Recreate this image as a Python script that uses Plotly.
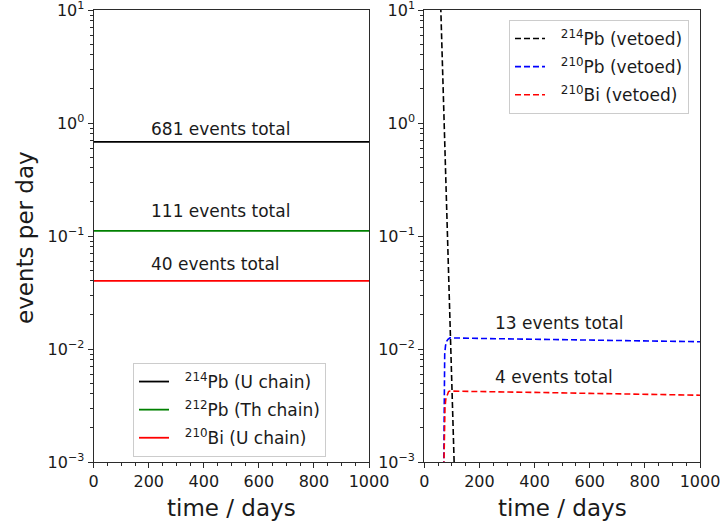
import plotly.graph_objects as go
import numpy as np

# ---- data -------------------------------------------------------------
SPAN_DAYS = 1000

chain_labels = ["<sup>214</sup>Pb (U chain)",
                "<sup>212</sup>Pb (Th chain)",
                "<sup>210</sup>Bi (U chain)"]
chain_totals = [681, 111, 40]          # events over the full span
chain_colors = ["#000000", "#008000", "#ff0000"]

veto_labels = ["<sup>214</sup>Pb (vetoed)",
               "<sup>210</sup>Pb (vetoed)",
               "<sup>210</sup>Bi (vetoed)"]
veto_colors = ["#000000", "#0000ff", "#ff0000"]

pb214_veto_days = [50, 60, 70, 80, 90, 100, 110, 120]
pb214_veto_rate = [67.6, 10.0, 1.48, 0.219, 0.0324, 0.0048, 0.00071, 0.000105]

pb210_veto_days = [70.5, 71.5, 72.5, 74, 77, 81, 86, 93, 200, 400, 600, 800, 1000]
pb210_veto_rate = [0.0009, 0.003, 0.0065, 0.0090, 0.0107, 0.0117, 0.0122, 0.01255,
                   0.0124, 0.0122, 0.0120, 0.0118, 0.0116]

bi210_veto_days = [71, 72, 73, 75, 78, 83, 88, 93, 200, 400, 600, 800, 1000]
bi210_veto_rate = [0.0009, 0.0015, 0.0022, 0.0030, 0.0036, 0.0040, 0.0042, 0.00424,
                   0.00422, 0.00413, 0.00405, 0.00398, 0.0039]

veto_totals = [13, 4]

x_ticks = [0, 200, 400, 600, 800, 1000]
y_ticks = [1e-3, 1e-2, 1e-1, 1e0, 1e1]
y_ticktext = ["10<sup>−3</sup>", "10<sup>−2</sup>", "10<sup>−1</sup>",
              "10<sup>0</sup>", "10<sup>1</sup>"]

# ---- figure -----------------------------------------------------------
W, H = 722, 521
FONT = "DejaVu Sans"
TXT = "#1a1a1a"
AX = "#2b2b2b"
PAD = "\u00a0\u00a0"   # gap between legend swatch and label

fig = go.Figure()

# left panel: constant rates
for i, (lab, tot, col) in enumerate(zip(chain_labels, chain_totals, chain_colors)):
    rate = tot / SPAN_DAYS
    fig.add_trace(go.Scatter(
        x=[0, SPAN_DAYS], y=[rate, rate], mode="lines", name=PAD + lab,
        line=dict(color=col, width=1.8), xaxis="x", yaxis="y",
        legend="legend", legendgroup=f"c{i}", showlegend=True))

# right panel: vetoed rates
veto_series = [(pb214_veto_days, pb214_veto_rate),
               (pb210_veto_days, pb210_veto_rate),
               (bi210_veto_days, bi210_veto_rate)]
for i, ((d, r), lab, col) in enumerate(zip(veto_series, veto_labels, veto_colors)):
    fig.add_trace(go.Scatter(
        x=d, y=r, mode="lines", name=PAD + lab,
        line=dict(color=col, width=1.6, dash="6px,3px"), xaxis="x2", yaxis="y2",
        legend="legend2", legendgroup=f"v{i}", showlegend=True))

# panel geometry (pixels -> paper)
L1, R1 = 93.7, 369.0
L2, R2 = 424.3, 700.0
TOP, BOT = 10.0, 462.0
dom_y = [1 - BOT / H, 1 - TOP / H]

axis_common = dict(
    showline=True, linecolor=AX, linewidth=1.2, mirror=True,
    ticks="outside", ticklen=5, tickwidth=1, tickcolor=AX,
    showgrid=False, zeroline=False, automargin=False,
    ticklabeloverflow="allow",
    tickfont=dict(family=FONT, size=16, color=TXT),
)
xaxis_common = dict(axis_common, range=[0, SPAN_DAYS], tickmode="array",
                    tickvals=x_ticks,
                    minor=dict(ticks="outside", ticklen=3, dtick=50,
                               tickcolor=AX, showgrid=False))
yaxis_common = dict(axis_common, type="log", range=[-3, 1], tickmode="array",
                    tickvals=y_ticks, ticktext=y_ticktext, domain=dom_y)

# minor log ticks drawn by overlay axes that carry only tick marks
minor_y = [m * 10.0 ** e for e in range(-3, 1) for m in range(2, 10)]
minor_axis = dict(type="log", range=[-3, 1], tickmode="array", tickvals=minor_y,
                  ticks="outside", ticklen=3, tickwidth=1, tickcolor=AX,
                  showticklabels=False, showgrid=False, zeroline=False,
                  showline=False, automargin=False, domain=dom_y)

fig.update_layout(
    width=W, height=H,
    margin=dict(l=0, r=0, t=0, b=0),
    paper_bgcolor="white", plot_bgcolor="white",
    font=dict(family=FONT, color=TXT),
    xaxis=dict(xaxis_common, domain=[L1 / W, R1 / W], anchor="y"),
    yaxis=dict(yaxis_common, anchor="x"),
    xaxis2=dict(xaxis_common, domain=[L2 / W, R2 / W], anchor="y2"),
    yaxis2=dict(yaxis_common, anchor="x2"),
    yaxis3=dict(minor_axis, overlaying="y", anchor="x", side="left"),
    yaxis4=dict(minor_axis, overlaying="y2", anchor="x2", side="left"),
    legend=dict(x=133 / W, y=1 - 363 / H, xanchor="left", yanchor="top",
                bgcolor="rgba(255,255,255,0.85)", bordercolor="#cccccc",
                borderwidth=1, font=dict(family=FONT, size=17, color=TXT),
                tracegroupgap=3),
    legend2=dict(x=509 / W, y=1 - 20 / H, xanchor="left", yanchor="top",
                 bgcolor="rgba(255,255,255,0.85)", bordercolor="#cccccc",
                 borderwidth=1, font=dict(family=FONT, size=17, color=TXT),
                 tracegroupgap=3),
    showlegend=True,
)

# invisible carriers so the overlay tick axes are rendered
for ya, xa in [("y3", "x"), ("y4", "x2")]:
    fig.add_trace(go.Scatter(x=[None], y=[None], xaxis=xa, yaxis=ya,
                             showlegend=False, hoverinfo="skip"))

# "N events total" labels, placed just above each line
label_y_left = [0.894, 0.168, 0.0560]
for tot, ly in zip(chain_totals, label_y_left):
    fig.add_annotation(x=200, y=np.log10(ly), xref="x", yref="y",
                       text=f"{tot} events total", showarrow=False,
                       xanchor="left", yanchor="middle",
                       font=dict(family=FONT, size=17, color=TXT))

label_y_right = [0.0170, 0.00565]
for tot, ly in zip(veto_totals, label_y_right):
    fig.add_annotation(x=250, y=np.log10(ly), xref="x2", yref="y2",
                       text=f"{tot} events total", showarrow=False,
                       xanchor="left", yanchor="middle",
                       font=dict(family=FONT, size=17, color=TXT))

# axis titles
for cx in [(L1 + R1) / 2, (L2 + R2) / 2]:
    fig.add_annotation(x=cx / W, y=1 - 508 / H, xref="paper", yref="paper",
                       text="time / days", showarrow=False,
                       xanchor="center", yanchor="middle",
                       font=dict(family=FONT, size=23, color=TXT))
fig.add_annotation(x=25 / W, y=1 - 238 / H, xref="paper", yref="paper",
                   text="events per day", showarrow=False, textangle=-90,
                   xanchor="center", yanchor="middle",
                   font=dict(family=FONT, size=23, color=TXT))

fig.write_html("out.html")
